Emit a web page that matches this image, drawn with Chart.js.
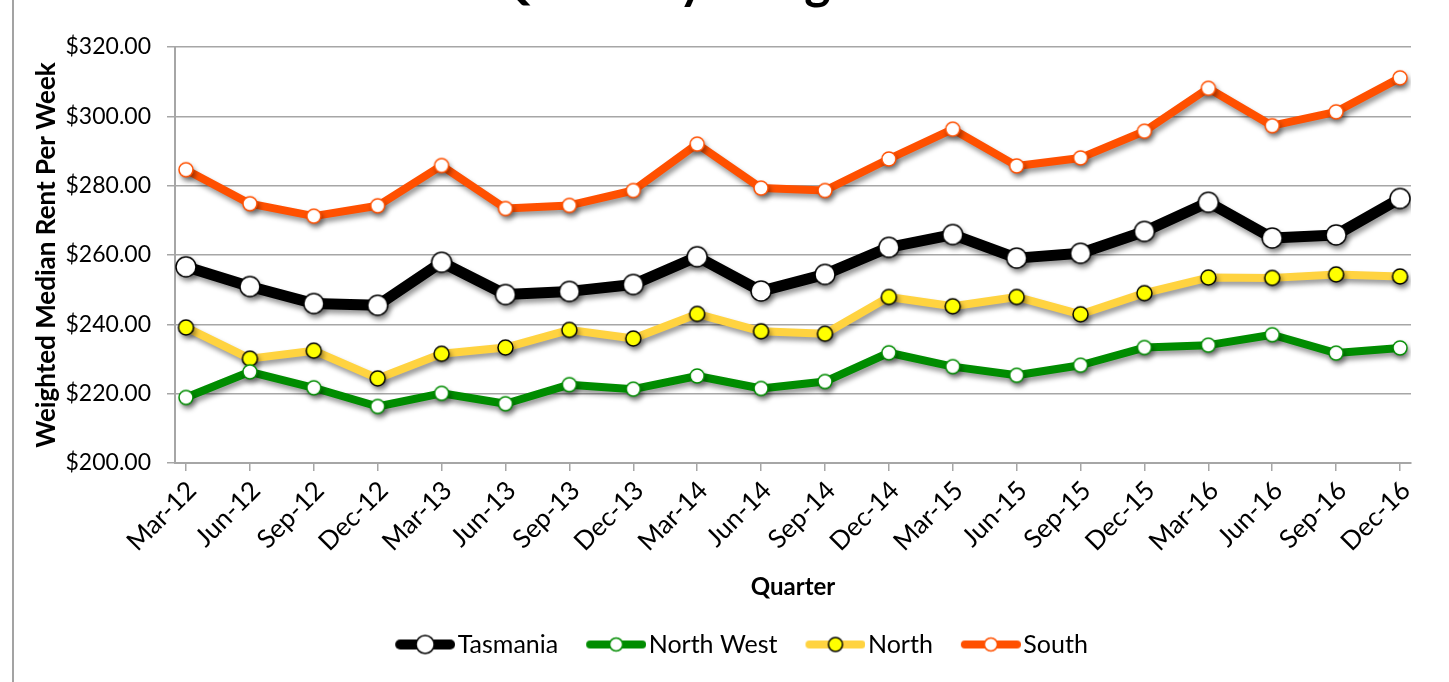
<!DOCTYPE html>
<html>
<head>
<meta charset="utf-8">
<script src="https://cdn.jsdelivr.net/npm/chart.js@4.4.1/dist/chart.umd.min.js"></script>
<style>
  html, body { margin: 0; padding: 0; background: #fff; overflow: hidden; }
  #wrap { position: relative; width: 1449px; height: 682px; overflow: hidden; }
  #frame { position: absolute; left: 12px; top: 0; width: 2px; height: 682px; background: #a3a3a3; }
  #title { position: absolute; left: 490px; top: -45px; font: bold 50px Lato; line-height: 50px; white-space: nowrap; color: #000; }
  #box { position: absolute; left: 0; top: 0; width: 1449px; height: 682px; }
</style>
</head>
<body>
<div id="wrap">
  <div id="frame"></div>
  <div id="title">Quarterly Weighted Median Rent</div>
  <div id="box"><canvas id="rentChart"></canvas></div>
</div>
<script>
// квартальные данные
const quarters = ['Mar-12', 'Jun-12', 'Sep-12', 'Dec-12', 'Mar-13', 'Jun-13', 'Sep-13', 'Dec-13',
    'Mar-14', 'Jun-14', 'Sep-14', 'Dec-14', 'Mar-15', 'Jun-15', 'Sep-15', 'Dec-15',
    'Mar-16', 'Jun-16', 'Sep-16', 'Dec-16'];
const tasmania = [256.6, 250.9, 246.0, 245.5, 257.9, 248.6, 249.5, 251.5, 259.5, 249.6,
    254.4, 262.2, 265.9, 259.1, 260.5, 266.8, 275.2, 264.9, 265.8, 276.3];
const northWest = [218.9, 226.3, 221.7, 216.3, 220.1, 217.1, 222.6, 221.3, 225.1, 221.5,
    223.5, 231.8, 227.8, 225.3, 228.2, 233.3, 234.0, 237.0, 231.7, 233.2];
const north = [239.1, 230.1, 232.4, 224.4, 231.5, 233.3, 238.4, 235.9, 243.0, 238.0,
    237.3, 247.9, 245.2, 247.9, 242.9, 249.0, 253.5, 253.4, 254.4, 253.8];
const south = [284.6, 274.8, 271.2, 274.2, 285.8, 273.4, 274.3, 278.6, 292.0, 279.3,
    278.6, 287.7, 296.3, 285.7, 288.0, 295.7, 308.1, 297.3, 301.3, 311.1];
const yTicks = [200, 220, 240, 260, 280, 300, 320];

Chart.defaults.font.family = 'Lato';
Chart.defaults.color = '#000';

function toPoints(values) {
    return values.map((v, i) => ({x: i, y: v}));
}

// маркер картинкой, чтобы тень падала от всего кружка
function markerImage(radius, fill, stroke) {
    const size = Math.ceil(radius * 2 + 4);
    const c = document.createElement('canvas');
    c.width = size;
    c.height = size;
    const g = c.getContext('2d');
    g.beginPath();
    g.arc(size / 2, size / 2, radius, 0, Math.PI * 2);
    g.fillStyle = fill;
    g.fill();
    g.lineWidth = 1.5;
    g.strokeStyle = stroke;
    g.stroke();
    return c;
}

// значок легенды: линия + маркер (справа в холсте, слева пусто)
function legendIcon(lineColor, lineWidth, radius, fill, stroke) {
    const c = document.createElement('canvas');
    c.width = 90;
    c.height = 24;
    const g = c.getContext('2d');
    g.strokeStyle = lineColor;
    g.lineWidth = lineWidth;
    g.lineCap = 'round';
    g.beginPath();
    g.moveTo(30 + lineWidth / 2, 12);
    g.lineTo(90 - lineWidth / 2, 12);
    g.stroke();
    g.beginPath();
    g.arc(60, 12, radius, 0, Math.PI * 2);
    g.fillStyle = fill;
    g.fill();
    g.lineWidth = 1.5;
    g.strokeStyle = stroke;
    g.stroke();
    return c;
}

const icons = [
    legendIcon('#000000', 10, 9, '#ffffff', '#000000'),
    legendIcon('#008c00', 8, 6.5, '#ffffff', '#008c00'),
    legendIcon('#ffd340', 8, 7, '#ffff00', '#000000'),
    legendIcon('#ff5000', 8, 6.5, '#ffffff', '#ff5000')
];

const shadowPlugin = {
    id: 'shadow',
    beforeDatasetDraw(chart) {
        const ctx = chart.ctx;
        ctx.save();
        ctx.shadowColor = 'rgba(0, 0, 0, 0.4)';
        ctx.shadowBlur = 5;
        ctx.shadowOffsetX = 2;
        ctx.shadowOffsetY = 4;
    },
    afterDatasetDraw(chart) {
        chart.ctx.restore();
    }
};

const legendShift = {
    id: 'legendShift',
    afterLayout(chart) {
        chart.legend.left += 16;
        chart.legend.right += 16;
        chart.legend.top += 2;
        chart.legend.bottom += 2;
    }
};

const ctx = document.getElementById('rentChart').getContext('2d');

new Chart(ctx, {
    type: 'line',
    data: {
        datasets: [{
            label: 'Tasmania',
            data: toPoints(tasmania),
            borderColor: '#000000',
            borderWidth: 11,
            pointRadius: 10,
            pointStyle: markerImage(10, '#ffffff', '#000000')
        }, {
            label: 'North West',
            data: toPoints(northWest),
            borderColor: '#008c00',
            borderWidth: 8,
            pointRadius: 7,
            pointStyle: markerImage(7, '#ffffff', '#008c00')
        }, {
            label: 'North',
            data: toPoints(north),
            borderColor: '#ffd340',
            borderWidth: 8,
            pointRadius: 7.5,
            pointStyle: markerImage(7.5, '#ffff00', '#000000')
        }, {
            label: 'South',
            data: toPoints(south),
            borderColor: '#ff5000',
            borderWidth: 8,
            pointRadius: 7,
            pointStyle: markerImage(7, '#ffffff', '#ff5000')
        }]
    },
    options: {
        responsive: true,
        maintainAspectRatio: false,
        animation: false,
        devicePixelRatio: 1,
        elements: {
            line: {tension: 0, borderJoinStyle: 'round', borderCapStyle: 'round'}
        },
        layout: {
            padding: {left: 20, right: 38, top: 47, bottom: 17}
        },
        scales: {
            x: {
                type: 'linear',
                min: -0.172,
                max: 19.172,
                afterBuildTicks: scale => {
                    scale.ticks = quarters.map((q, i) => ({value: i}));
                },
                afterFit: scale => { scale.height = 159; },
                ticks: {
                    autoSkip: false,
                    minRotation: 45,
                    maxRotation: 45,
                    padding: 4,
                    labelOffset: 6,
                    font: {size: 26},
                    callback: (value, index) => quarters[index]
                },
                grid: {
                    drawOnChartArea: false,
                    drawTicks: true,
                    tickLength: 8,
                    color: '#a6a6a6',
                    lineWidth: 1.5
                },
                border: {color: '#a6a6a6', width: 2},
                title: {
                    display: true,
                    text: 'Quarter',
                    font: {size: 24, weight: 'bold'},
                    padding: {top: 0, bottom: 20}
                }
            },
            y: {
                min: 200,
                max: 320,
                afterBuildTicks: scale => {
                    scale.ticks = yTicks.map(v => ({value: v}));
                },
                afterFit: scale => { scale.width = 155; },
                ticks: {
                    padding: 16,
                    font: {size: 23},
                    callback: value => '$' + value.toFixed(2)
                },
                grid: {
                    color: '#a6a6a6',
                    lineWidth: 1.5,
                    tickLength: 8
                },
                border: {color: '#a6a6a6', width: 2},
                title: {
                    display: true,
                    text: 'Weighted Median Rent Per Week',
                    font: {size: 26, weight: 'bold'},
                    padding: {top: 11, bottom: 0}
                }
            }
        },
        plugins: {
            legend: {
                position: 'bottom',
                labels: {
                    usePointStyle: true,
                    pointStyleWidth: 70,
                    padding: 8,
                    font: {size: 25},
                    generateLabels: chart => {
                        const items = Chart.defaults.plugins.legend.labels.generateLabels(chart);
                        items.forEach((it, i) => { it.pointStyle = icons[i]; });
                        return items;
                    }
                }
            },
            tooltip: {enabled: false}
        }
    },
    plugins: [shadowPlugin, legendShift]
});
</script>
</body>
</html>
